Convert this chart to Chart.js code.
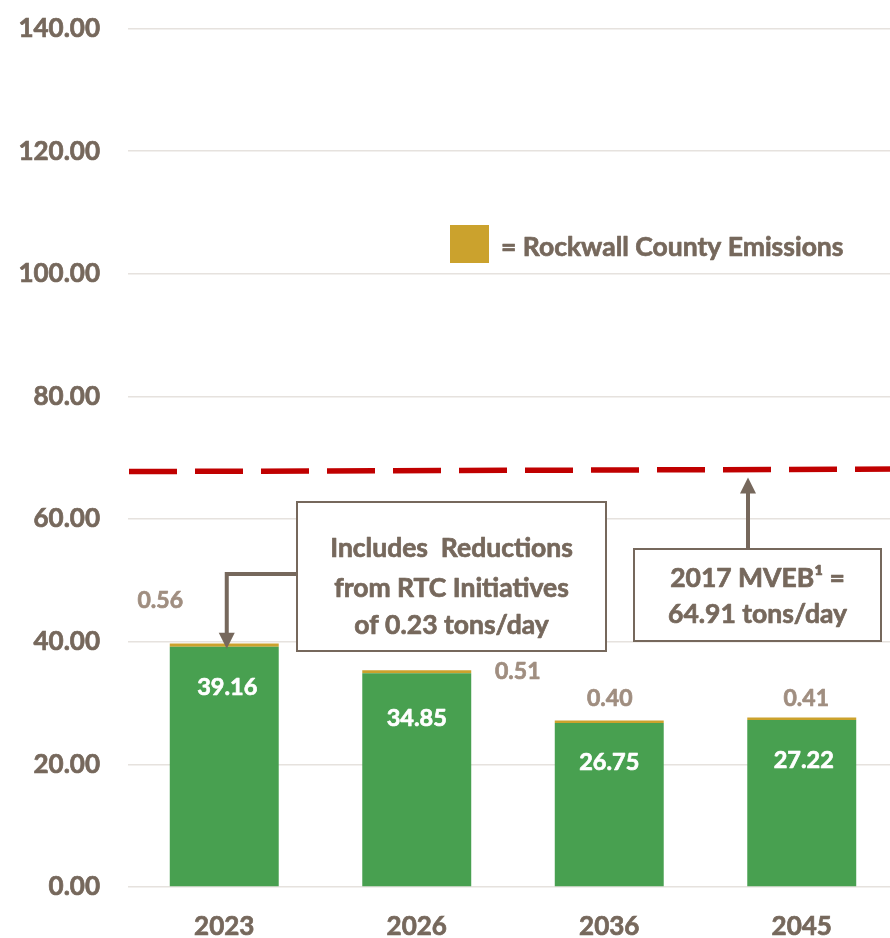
<!DOCTYPE html>
<html><head><meta charset="utf-8">
<script src="https://cdn.jsdelivr.net/npm/chart.js@4.4.1/dist/chart.umd.min.js"></script>
<style>
html,body{margin:0;padding:0;background:#fff;overflow:hidden;width:890px;height:938px}
#wrap{position:absolute;left:0;top:0;width:898px;height:938px}
</style>
</head><body><div id="wrap"><canvas id="c"></canvas></div>
<script>
// ---- data ----
const categories = ['2023', '2026', '2036', '2045'];
const baseEmissions = [39.16, 34.85, 26.75, 27.22];
const rockwallEmissions = [0.56, 0.51, 0.40, 0.41];
const yMin = 0, yMax = 140, yStep = 20;
const mvebLineValues = [67.75, 68.15];   // dashed line, left end / right end
const mvebNote = ['2017 MVEB¹ =', '64.91 tons/day'];
const rtcNote = ['Includes  Reductions', 'from RTC Initiatives', 'of 0.23 tons/day'];
const legendText = '= Rockwall County Emissions';

// ---- styles ----
const TXT = '#76685C';
const GOLD_TXT = '#A08E80';
const GREEN = '#48A050';
const GOLD = '#CBA22D';
const RED = '#C00000';
const FONT = 'Lato';
const STROKE = 0.7;

function capText(ctx, text, x, cy, size, color, align) {
  ctx.save();
  ctx.font = 'bold ' + size + 'px ' + FONT;
  ctx.fillStyle = color;
  ctx.strokeStyle = color;
  ctx.lineWidth = STROKE;
  ctx.lineJoin = 'round';
  ctx.textAlign = align || 'center';
  ctx.textBaseline = 'alphabetic';
  const yy = cy + 0.36 * size;
  ctx.strokeText(text, x, yy);
  ctx.fillText(text, x, yy);
  ctx.restore();
}

const overlay = {
  id: 'overlay',
  afterDatasetsDraw(chart) {
    const ctx = chart.ctx, y = chart.scales.y, area = chart.chartArea;
    // dashed MVEB line
    ctx.save();
    ctx.strokeStyle = RED;
    ctx.lineWidth = 5.5;
    ctx.setLineDash([48, 18]);
    ctx.beginPath();
    ctx.moveTo(area.left + 1, y.getPixelForValue(mvebLineValues[0]));
    ctx.lineTo(area.right, y.getPixelForValue(mvebLineValues[1]));
    ctx.stroke();
    ctx.restore();

    // value labels
    const greenMeta = chart.getDatasetMeta(0), goldMeta = chart.getDatasetMeta(1);
    const greenDy = [40, 44.5, 39, 39.5];
    const greenDx = [3, 0, 0, 2];
    greenMeta.data.forEach((bar, i) => {
      capText(ctx, baseEmissions[i].toFixed(2), bar.x + greenDx[i], bar.y + greenDy[i], 23.5, '#FFFFFF');
    });
    const goldOff = [[-64, -44], [101, 1], [0.5, -22.5], [4.5, -20]];
    goldMeta.data.forEach((bar, i) => {
      capText(ctx, rockwallEmissions[i].toFixed(2), bar.x + goldOff[i][0], bar.y + goldOff[i][1], 23, GOLD_TXT);
    });
  },
  afterDraw(chart) {
    const ctx = chart.ctx, y = chart.scales.y;
    const greenMeta = chart.getDatasetMeta(0);
    // legend
    ctx.save();
    ctx.fillStyle = GOLD;
    ctx.fillRect(450, 225, 39, 38);
    ctx.restore();
    capText(ctx, legendText, 501, 246.5, 26.5, TXT, 'left');

    // arrows
    ctx.save();
    ctx.strokeStyle = TXT; ctx.fillStyle = TXT; ctx.lineWidth = 4;
    const b0 = greenMeta.data[0];
    const ax = b0.x + 2.5, tipY = b0.y + 2;
    ctx.beginPath();
    ctx.moveTo(298, 574); ctx.lineTo(ax, 574); ctx.lineTo(ax, tipY - 14);
    ctx.stroke();
    ctx.beginPath();
    ctx.moveTo(ax - 8, tipY - 16); ctx.lineTo(ax + 8, tipY - 16); ctx.lineTo(ax, tipY);
    ctx.closePath(); ctx.fill();
    // arrow 2
    const bx = 748;
    const lineY = y.getPixelForValue(mvebLineValues[0] + (mvebLineValues[1] - mvebLineValues[0]) * (bx - chart.chartArea.left) / (chart.chartArea.right - chart.chartArea.left));
    const tip2 = lineY + 8;
    ctx.beginPath();
    ctx.moveTo(bx, 549); ctx.lineTo(bx, tip2 + 14); ctx.stroke();
    ctx.beginPath();
    ctx.moveTo(bx - 8, tip2 + 16); ctx.lineTo(bx + 8, tip2 + 16); ctx.lineTo(bx, tip2);
    ctx.closePath(); ctx.fill();
    ctx.restore();

    // boxes
    ctx.save();
    ctx.fillStyle = '#FFFFFF'; ctx.strokeStyle = TXT; ctx.lineWidth = 2;
    ctx.fillRect(297, 502, 309, 149); ctx.strokeRect(297, 502, 309, 149);
    ctx.fillRect(634, 549, 247, 92); ctx.strokeRect(634, 549, 247, 92);
    ctx.restore();
    const c1 = [547, 587, 624];
    rtcNote.forEach((t, i) => capText(ctx, t, 451.5, c1[i], 26.5, TXT));
    const c2 = [577, 613];
    mvebNote.forEach((t, i) => capText(ctx, t, 757.5, c2[i], 26.5, TXT));
  }
};

new Chart(document.getElementById('c'), {
  type: 'bar',
  data: {
    labels: categories,
    datasets: [
      { label: 'Emissions', data: baseEmissions, backgroundColor: GREEN, stack: 's', barPercentage: 0.566, categoryPercentage: 1 },
      { label: 'Rockwall County Emissions', data: rockwallEmissions, backgroundColor: GOLD, stack: 's', barPercentage: 0.566, categoryPercentage: 1 }
    ]
  },
  options: {
    responsive: true,
    maintainAspectRatio: false,
    animation: false,
    devicePixelRatio: 1,
    layout: { padding: { top: 28.5, right: 0, bottom: 0, left: 0 } },
    plugins: { legend: { display: false }, tooltip: { enabled: false } },
    scales: {
      x: {
        stacked: true,
        grid: { display: false, drawTicks: false },
        border: { display: false },
        ticks: { color: TXT, textStrokeColor: TXT, textStrokeWidth: STROKE, font: { family: FONT, size: 26, weight: 'bold' }, padding: 24 },
        afterFit(s) { s.height = 51; s.paddingLeft = 0; s.paddingRight = 0; }
      },
      y: {
        stacked: true,
        min: yMin, max: yMax,
        grid: { color: '#E6E2DE', lineWidth: 1.5, drawTicks: false },
        border: { display: false },
        ticks: { stepSize: yStep, color: TXT, textStrokeColor: TXT, textStrokeWidth: STROKE, padding: 28, font: { family: FONT, size: 26, weight: 'bold' }, callback: v => v.toFixed(2) },
        afterFit(s) { s.width = 128; s.paddingTop = 0; s.paddingBottom = 0; }
      }
    }
  },
  plugins: [overlay]
});
</script>
</body></html>
